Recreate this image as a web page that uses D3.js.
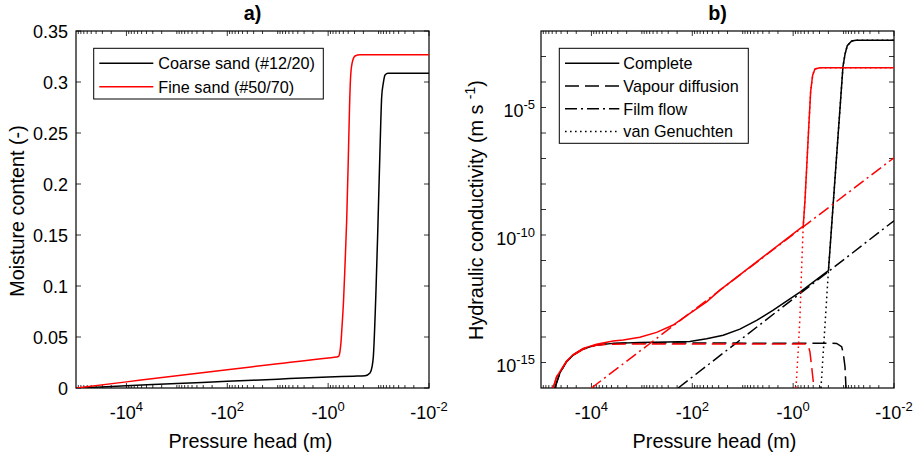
<!DOCTYPE html>
<html><head><meta charset="utf-8">
<script src="https://cdn.jsdelivr.net/npm/d3@7"></script>
<style>
body{margin:0;background:#fff}
svg{display:block;background:#fff}
text{font-family:"Liberation Sans",Arial,Helvetica,sans-serif;fill:#000}
</style>
</head><body>
<svg id="chart" width="918" height="454"></svg>
<script>
// ---------------- DATA ----------------
// pressure head given as log10(|h|) (h in m, negative); axis runs from -1e5 to -1e-2
const headTickExponents = [4, 2, 0, -2];
const thetaTicks = [0, 0.05, 0.1, 0.15, 0.2, 0.25, 0.3, 0.35];
const thetaTickLabels = ["0", "0.05", "0.1", "0.15", "0.2", "0.25", "0.3", "0.35"];
const kTickExponents = [-5, -10, -15];
const soilNames = ["Coarse sand (#12/20)", "Fine sand (#50/70)"];
const componentNames = ["Complete", "Vapour diffusion", "Film flow", "van Genuchten"];

// panel a) moisture content
const coarseThetaLogH = [5.0, 4, 3, 2, 1, 0, -0.5, -0.731, -0.83, -0.87, -0.896, -0.949, -0.983, -1.028, -1.062, -1.094, -1.128, -1.187, -2];
const coarseTheta     = [0, 0.0022, 0.0044, 0.0065, 0.0087, 0.0108, 0.0116, 0.012, 0.0147, 0.0206, 0.0307, 0.096, 0.152, 0.233, 0.2856, 0.299, 0.3069, 0.3085, 0.3085];
const fineThetaLogH   = [4.99, 4, 3, 2, 1, 0, -0.166, -0.205, -0.235, -0.255, -0.275, -0.305, -0.334, -0.368, -0.400, -0.424, -0.443, -0.473, -0.533, -0.632, -2];
const fineTheta       = [0, 0.006, 0.012, 0.0178, 0.0238, 0.0295, 0.0303, 0.031, 0.036, 0.045, 0.06, 0.085, 0.12, 0.165, 0.225, 0.275, 0.303, 0.318, 0.3255, 0.3268, 0.3268];

// panel b) hydraulic conductivity, log10(K) in m/s
const coarseCompleteLogH = [4.726, 4.627, 4.494, 4.363, 4.165, 3.899, 3.569, 3.04, 2.5, 2.048, 1.716, 1.387, 1.056, 0.724, 0.395, -0.135, -0.70, -0.988, -1.03, -1.073, -1.161, -1.246, -2];
const coarseCompleteLogK = [-16.0, -15.42, -14.97, -14.71, -14.47, -14.31, -14.25, -14.22, -14.2, -14.18, -14.07, -13.93, -13.69, -13.35, -12.95, -12.24, -11.40, -3.40, -2.90, -2.576, -2.392, -2.365, -2.365];
const coarseVapourLogH   = [4.726, 4.627, 4.494, 4.363, 4.165, 3.899, 3.569, 3.04, -0.863, -0.962, -0.994, -1.028, -1.048];
const coarseVapourLogK   = [-16.0, -15.42, -14.97, -14.71, -14.47, -14.31, -14.25, -14.23, -14.25, -14.38, -14.64, -15.16, -16.0];
const coarseFilmLogH     = [2.28, -2];
const coarseFilmLogK     = [-16.0, -9.44];
const coarseVgLogH       = [-0.552, -0.70, -0.988, -1.03, -1.073, -1.161, -1.246, -2];
const coarseVgLogK       = [-16.0, -11.40, -3.40, -2.90, -2.576, -2.392, -2.365, -2.365];

const fineCompleteLogH = [4.76, 4.69, 4.494, 4.363, 4.165, 3.899, 3.569, 3.371, 3.04, 2.708, 2.379, 2.048, 1.716, 1.452, -0.20, -0.2355, -0.3115, -0.347, -0.387, -0.433, -0.532, -2];
const fineCompleteLogK = [-16.0, -15.56, -14.95, -14.69, -14.45, -14.28, -14.16, -14.12, -14.01, -13.82, -13.53, -13.07, -12.62, -12.16, -9.65, -8.63, -5.69, -4.38, -3.73, -3.49, -3.44, -3.44];
const fineVapourLogH   = [4.76, 4.69, 4.494, 4.363, 4.165, 3.899, 3.569, 3.04, -0.27, -0.30, -0.333, -0.367, -0.413];
const fineVapourLogK   = [-16.0, -15.56, -14.96, -14.72, -14.48, -14.32, -14.28, -14.27, -14.27, -14.35, -14.58, -15.16, -16.0];
const fineFilmLogH     = [4.0, -2];
const fineFilmLogK     = [-16.0, -6.97];
const fineVgLogH       = [-0.056, -0.101, -0.135, -0.169, -0.20, -0.2355, -0.3115, -0.347, -0.387, -0.433, -0.532, -2];
const fineVgLogK       = [-16.0, -14.51, -13.2, -11.24, -9.65, -8.63, -5.69, -4.38, -3.73, -3.49, -3.44, -3.44];

// ---------------- DRAWING ----------------
const svg = d3.select("#chart");
svg.append("rect").attr("width", 918).attr("height", 454).attr("fill", "#fff");

const A = {x0: 76, x1: 429, y0: 31, y1: 388};
const B = {x0: 541, x1: 894, y0: 31, y1: 388};
const BLACK = "#000", RED = "#ff0000";
const DASH = "14,6", DASHDOT = "12,4,2,4", DOT = "1.6,3.4";
const LW = 1.5;

const xA = d3.scaleLog().domain([1e5, 1e-2]).range([A.x0, A.x1]);
const yA = d3.scaleLinear().domain([0, 0.35]).range([A.y1, A.y0]);
const xB = d3.scaleLog().domain([1e5, 1e-2]).range([B.x0, B.x1]);
const yB = d3.scaleLog().domain([1e-16, 1e-2]).range([B.y1, B.y0]);

function zip(a, b) { return a.map((v, i) => [v, b[i]]); }

svg.append("defs").selectAll("clipPath").data([["clipA", A], ["clipB", B]]).join("clipPath")
  .attr("id", d => d[0]).append("rect")
  .attr("x", d => d[1].x0).attr("y", d => d[1].y0 - 1)
  .attr("width", d => d[1].x1 - d[1].x0).attr("height", d => d[1].y1 - d[1].y0 + 1);

function xTicks(g, P, x) {
  const minor = [], major = [];
  for (let n = -2; n <= 4; n++) {
    for (let k = 1; k <= 9; k++) {
      const v = k * Math.pow(10, n);
      if (v > 1e5 || v < 1e-2) continue;
      if (k === 1 && headTickExponents.includes(n)) major.push(v); else minor.push(v);
    }
  }
  const tk = g.append("g").attr("stroke", "#000").attr("stroke-width", 0.8);
  major.forEach(v => {
    const px = x(v);
    tk.append("line").attr("x1", px).attr("x2", px).attr("y1", P.y1).attr("y2", P.y1 - 5);
    tk.append("line").attr("x1", px).attr("x2", px).attr("y1", P.y0).attr("y2", P.y0 + 5);
  });
  minor.forEach(v => {
    const px = x(v);
    tk.append("line").attr("x1", px).attr("x2", px).attr("y1", P.y1).attr("y2", P.y1 - 3);
    tk.append("line").attr("x1", px).attr("x2", px).attr("y1", P.y0).attr("y2", P.y0 + 3);
  });
  headTickExponents.forEach(e => {
    const t = g.append("text").attr("x", x(Math.pow(10, e))).attr("y", P.y1 + 31)
      .attr("text-anchor", "middle").style("font-size", "18px");
    t.append("tspan").text("-10");
    t.append("tspan").attr("dy", -8).style("font-size", "13px").text(String(e));
  });
}

function frame(g, P) {
  g.append("rect").attr("x", P.x0).attr("y", P.y0).attr("width", P.x1 - P.x0).attr("height", P.y1 - P.y0)
    .attr("fill", "none").attr("stroke", "#000").attr("stroke-width", 1.2);
}

// ---------- Panel a ----------
const gA = svg.append("g");
frame(gA, A);
xTicks(gA, A, xA);
thetaTicks.forEach((v, i) => {
  const py = yA(v);
  gA.append("line").attr("x1", A.x0).attr("x2", A.x0 + 5).attr("y1", py).attr("y2", py).attr("stroke", "#000").attr("stroke-width", 0.8);
  gA.append("line").attr("x1", A.x1).attr("x2", A.x1 - 5).attr("y1", py).attr("y2", py).attr("stroke", "#000").attr("stroke-width", 0.8);
  gA.append("text").attr("x", A.x0 - 8).attr("y", py + 6.5).attr("text-anchor", "end").style("font-size", "18px").text(thetaTickLabels[i]);
});
const lineA = d3.line().x(d => xA(Math.pow(10, d[0]))).y(d => yA(d[1])).curve(d3.curveMonotoneX);
const curvesA = gA.append("g").attr("clip-path", "url(#clipA)").attr("fill", "none").attr("stroke-width", LW);
curvesA.append("path").attr("d", lineA(zip(coarseThetaLogH, coarseTheta))).attr("stroke", BLACK);
curvesA.append("path").attr("d", lineA(zip(fineThetaLogH, fineTheta))).attr("stroke", RED);

gA.append("text").attr("x", (A.x0 + A.x1) / 2).attr("y", 20).attr("text-anchor", "middle")
  .style("font-size", "19.8px").style("font-weight", "bold").text("a)");
gA.append("text").attr("x", (A.x0 + A.x1) / 2 - 2).attr("y", 448).attr("text-anchor", "middle")
  .style("font-size", "19.8px").text("Pressure head (m)");
gA.append("text").attr("transform", "translate(23.5,211) rotate(-90)").attr("text-anchor", "middle")
  .style("font-size", "19.8px").text("Moisture content (-)");

// legend a
const legA = gA.append("g");
legA.append("rect").attr("x", 93.7).attr("y", 48.3).attr("width", 229.6).attr("height", 50.7)
  .attr("fill", "#fff").attr("stroke", "#000").attr("stroke-width", 1);
[[BLACK, 63.3], [RED, 86.7]].forEach((d, i) => {
  legA.append("line").attr("x1", 99.3).attr("x2", 153.3).attr("y1", d[1]).attr("y2", d[1]).attr("stroke", d[0]).attr("stroke-width", LW);
  legA.append("text").attr("x", 158.3).attr("y", d[1] + 5.8).style("font-size", "16.2px").text(soilNames[i]);
});

// ---------- Panel b ----------
const gB = svg.append("g");
frame(gB, B);
xTicks(gB, B, xB);
for (let e = -15; e <= -3; e++) {
  const py = yB(Math.pow(10, e));
  gB.append("line").attr("x1", B.x0).attr("x2", B.x0 + 5).attr("y1", py).attr("y2", py).attr("stroke", "#000").attr("stroke-width", 0.8);
  gB.append("line").attr("x1", B.x1).attr("x2", B.x1 - 5).attr("y1", py).attr("y2", py).attr("stroke", "#000").attr("stroke-width", 0.8);
}
kTickExponents.forEach(e => {
  const t = gB.append("text").attr("x", B.x0 - 6).attr("y", yB(Math.pow(10, e)) + 9.5)
    .attr("text-anchor", "end").style("font-size", "18px");
  t.append("tspan").text("10");
  t.append("tspan").attr("dy", -8).style("font-size", "13px").text(String(e));
});

const lineB = d3.line().x(d => xB(Math.pow(10, d[0]))).y(d => yB(Math.pow(10, d[1])));
const curvesB = gB.append("g").attr("clip-path", "url(#clipB)").attr("fill", "none").attr("stroke-width", LW);
const seriesB = [
  [coarseCompleteLogH, coarseCompleteLogK, BLACK, null],
  [coarseVapourLogH, coarseVapourLogK, BLACK, DASH],
  [coarseFilmLogH, coarseFilmLogK, BLACK, DASHDOT],
  [coarseVgLogH, coarseVgLogK, BLACK, DOT],
  [fineCompleteLogH, fineCompleteLogK, RED, null],
  [fineVapourLogH, fineVapourLogK, RED, DASH],
  [fineFilmLogH, fineFilmLogK, RED, DASHDOT],
  [fineVgLogH, fineVgLogK, RED, DOT]
];
seriesB.forEach(s => {
  const p = curvesB.append("path").attr("d", lineB(zip(s[0], s[1]))).attr("stroke", s[2]);
  if (s[3]) p.attr("stroke-dasharray", s[3]);
});

gB.append("text").attr("x", (B.x0 + B.x1) / 2).attr("y", 20).attr("text-anchor", "middle")
  .style("font-size", "19.8px").style("font-weight", "bold").text("b)");
gB.append("text").attr("x", (B.x0 + B.x1) / 2 - 3).attr("y", 448).attr("text-anchor", "middle")
  .style("font-size", "19.8px").text("Pressure head (m)");
const yl = gB.append("text").attr("transform", "translate(483,210) rotate(-90)").attr("text-anchor", "middle")
  .style("font-size", "19.8px");
yl.append("tspan").text("Hydraulic conductivity (m s ");
yl.append("tspan").attr("dy", -8).style("font-size", "14px").text("-1");
yl.append("tspan").attr("dy", 8).text(")");

// legend b
const legB = gB.append("g");
legB.append("rect").attr("x", 559.3).attr("y", 48.3).attr("width", 189).attr("height", 95)
  .attr("fill", "#fff").attr("stroke", "#000").attr("stroke-width", 1);
[[null, 63.3], [DASH, 86], [DASHDOT, 108.7], [DOT, 131.4]].forEach((d, i) => {
  const l = legB.append("line").attr("x1", 565).attr("x2", 619.3).attr("y1", d[1]).attr("y2", d[1]).attr("stroke", BLACK).attr("stroke-width", LW);
  if (d[0]) l.attr("stroke-dasharray", d[0]);
  legB.append("text").attr("x", 623.3).attr("y", d[1] + 5.8).style("font-size", "16.2px").text(componentNames[i]);
});
</script>
</body></html>
